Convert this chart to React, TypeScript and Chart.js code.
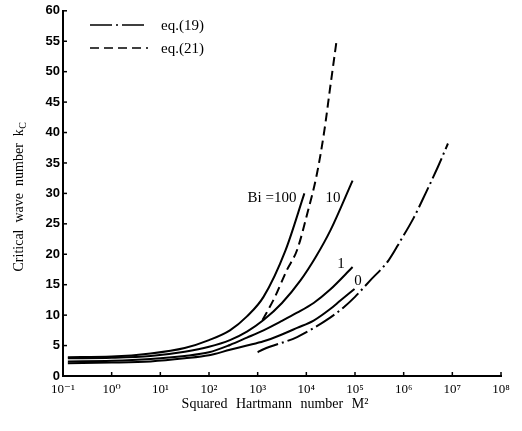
import { useEffect, useRef } from "react";
import { Chart, registerables } from "chart.js";
Chart.register(...registerables);

// x axis: powers of ten for M^2, tick exponents
const xTickExponents = [-1, 0, 1, 2, 3, 4, 5, 6, 7, 8];
const yTickValues = [0, 5, 10, 15, 20, 25, 30, 35, 40, 45, 50, 55, 60];

// log10(M^2) and k_c for each curve
const bi100LogM = [-0.9, 0, 0.8, 1.5, 2, 2.43, 2.78, 3.12, 3.57, 3.96];
const bi100K = [3.1, 3.2, 3.7, 4.6, 5.9, 7.5, 9.8, 13, 20.6, 30];

const bi10LogM = [-0.9, 0, 0.8, 1.5, 2, 2.43, 2.78, 3.12, 3.5, 3.88, 4.19, 4.5, 4.95];
const bi10K = [2.9, 3.0, 3.3, 4.0, 4.8, 5.9, 7.3, 9.2, 12, 15.7, 19.5, 24, 32.1];

const bi1LogM = [-0.9, 0, 0.8, 1.5, 2, 2.43, 2.78, 3.12, 3.46, 3.81, 4.15, 4.49, 4.95];
const bi1K = [2.4, 2.5, 2.8, 3.3, 3.9, 5.1, 6.3, 7.5, 8.9, 10.4, 12.0, 14.2, 17.9];

const bi0LogM = [-0.9, 0, 0.8, 1.5, 2, 2.43, 2.78, 3.12, 3.46, 3.81, 4.15, 4.49, 4.7, 4.99];
const bi0K = [2.1, 2.2, 2.4, 2.9, 3.4, 4.3, 5.0, 5.7, 6.7, 7.9, 9.1, 11.0, 12.4, 14.3];

const eq21LogM = [3.1, 3.35, 3.6, 3.81, 4.02, 4.22, 4.37, 4.49, 4.62];
const eq21K = [9.2, 12.9, 17.4, 20.7, 26.7, 33.3, 40.3, 47.4, 55];

const eq19LogM = [3.0, 3.12, 3.81, 4.49, 4.77, 5.0, 5.3, 5.69, 5.94, 6.2, 6.45, 6.7, 6.91];
const eq19K = [3.9, 4.4, 6.4, 9.6, 11.3, 13.0, 15.6, 19.0, 22.3, 25.9, 30, 34.3, 38.2];

const legendLabels = ["eq.(19)", "eq.(21)"];
const curveLabels = ["Bi =100", "10", "1", "0"];

const DASH_DOT = [22, 4, 2, 4];
const DASHED = [9, 5];

const sup: Record<string, string> = {
  "-": "\u207B", "0": "\u2070", "1": "\u00B9", "2": "\u00B2", "3": "\u00B3",
  "4": "\u2074", "5": "\u2075", "6": "\u2076", "7": "\u2077", "8": "\u2078", "9": "\u2079",
};
const powLabel = (e: number) => "10" + String(e).split("").map((c) => sup[c]).join("");

const pts = (lx: number[], ys: number[]) => lx.map((e, i) => ({ x: Math.pow(10, e), y: ys[i] }));

const SERIF = "'Liberation Serif', 'DejaVu Serif', serif";
const SANS = "'Liberation Sans', Arial, sans-serif";

export default function App() {
  const ref = useRef<HTMLCanvasElement | null>(null);

  useEffect(() => {
    document.body.style.margin = "0";
    if (!ref.current) return;

    const line = (label: string, data: any, dash: number[] = []) => ({
      label,
      data,
      showLine: true,
      borderColor: "#000",
      backgroundColor: "#000",
      borderWidth: 2,
      borderDash: dash,
      pointRadius: 0,
      cubicInterpolationMode: "monotone" as const,
      fill: false,
    });

    const decor = {
      id: "decor",
      afterDraw(chart: any) {
        const ctx = chart.ctx;
        const xs = chart.scales.x;
        const ys = chart.scales.y;
        const area = chart.chartArea;
        ctx.save();
        ctx.strokeStyle = "#000";
        ctx.fillStyle = "#000";
        ctx.lineWidth = 1.5;
        // inward ticks
        ys.ticks.forEach((t: any) => {
          const y = ys.getPixelForValue(t.value);
          ctx.beginPath();
          ctx.moveTo(area.left, y);
          ctx.lineTo(area.left + 4, y);
          ctx.stroke();
        });
        xs.ticks.forEach((t: any) => {
          const x = xs.getPixelForValue(t.value);
          ctx.beginPath();
          ctx.moveTo(x, area.bottom);
          ctx.lineTo(x, area.bottom - 4);
          ctx.stroke();
        });
        // legend
        const legY = [25, 48];
        const dashes = [DASH_DOT, DASHED];
        legendLabels.forEach((lab, i) => {
          ctx.setLineDash(dashes[i]);
          ctx.beginPath();
          ctx.moveTo(90, legY[i]);
          ctx.lineTo(148, legY[i]);
          ctx.stroke();
          ctx.setLineDash([]);
          ctx.font = `15px ${SERIF}`;
          ctx.textAlign = "left";
          ctx.textBaseline = "middle";
          ctx.fillText(lab, 161, legY[i] + 1);
        });
        // curve labels
        ctx.font = `15px ${SERIF}`;
        ctx.textBaseline = "middle";
        ctx.textAlign = "center";
        const lp = [
          [272, 198],
          [333, 198],
          [341, 264],
          [358, 281],
        ];
        curveLabels.forEach((lab, i) => ctx.fillText(lab, lp[i][0], lp[i][1]));
        // x title
        ctx.font = `14px ${SERIF}`;
        ctx.textAlign = "center";
        (ctx as any).wordSpacing = "5px";
        ctx.fillText("Squared Hartmann number M\u00B2", 275, 404);
        (ctx as any).wordSpacing = "0px";
        // y title with subscript
        ctx.translate(19, 197);
        ctx.rotate(-Math.PI / 2);
        const main = "Critical  wave  number  k";
        ctx.font = `14px ${SERIF}`;
        const w1 = ctx.measureText(main).width;
        ctx.font = `10px ${SERIF}`;
        const w2 = ctx.measureText("C").width;
        const start = -(w1 + w2) / 2;
        ctx.textAlign = "left";
        ctx.font = `14px ${SERIF}`;
        ctx.fillText(main, start, 0);
        ctx.font = `10px ${SERIF}`;
        ctx.fillText("C", start + w1 + 0.5, 4);
        ctx.restore();
      },
    };

    const chart = new Chart(ref.current, {
      type: "scatter",
      data: {
        datasets: [
          line("Bi=100", pts(bi100LogM, bi100K)),
          line("Bi=10", pts(bi10LogM, bi10K)),
          line("Bi=1", pts(bi1LogM, bi1K)),
          line("Bi=0", pts(bi0LogM, bi0K)),
          line("eq.(21)", pts(eq21LogM, eq21K), DASHED),
          line("eq.(19)", pts(eq19LogM, eq19K), DASH_DOT),
        ],
      },
      options: {
        animation: false,
        responsive: false,
        devicePixelRatio: 1,
        layout: { padding: { top: 10, right: 21, left: 0, bottom: 0 } },
        plugins: {
          legend: { display: false },
          tooltip: { enabled: false },
          title: { display: false },
        },
        scales: {
          x: {
            type: "logarithmic",
            min: 0.1,
            max: 1e8,
            grid: { display: false, drawTicks: false },
            border: { display: true, color: "#000", width: 2 },
            afterBuildTicks: (s: any) => {
              s.ticks = xTickExponents.map((e) => ({ value: Math.pow(10, e) }));
            },
            afterFit: (s: any) => {
              s.height = 55;
            },
            ticks: {
              color: "#000",
              padding: 6,
              maxRotation: 0,
              autoSkip: false,
              font: { family: SERIF, size: 13 },
              callback: (v: any) => powLabel(Math.round(Math.log10(Number(v)))),
            },
          },
          y: {
            type: "linear",
            min: 0,
            max: 60,
            grid: { display: false, drawTicks: false },
            border: { display: true, color: "#000", width: 2 },
            afterBuildTicks: (s: any) => {
              s.ticks = yTickValues.map((v) => ({ value: v }));
            },
            afterFit: (s: any) => {
              s.width = 63;
            },
            ticks: {
              color: "#000",
              padding: 3,
              font: { family: SANS, size: 13, weight: "bold" },
            },
          },
        },
      },
      plugins: [decor],
    });
    return () => chart.destroy();
  }, []);

  return (
    <div style={{ width: 522, height: 431 }}>
      <canvas ref={ref} width={522} height={431} style={{ width: 522, height: 431, display: "block" }} />
    </div>
  );
}
